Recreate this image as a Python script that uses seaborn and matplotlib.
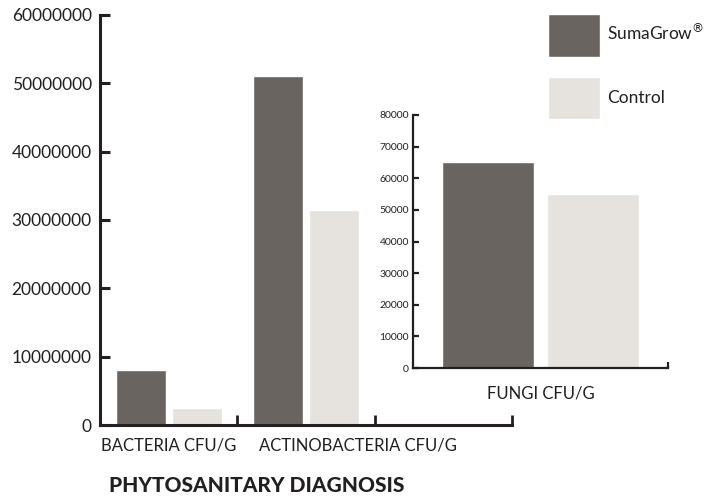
import pandas as pd
import matplotlib.pyplot as plt
import seaborn as sns

# dados
treatments = ['SumaGrow', 'Control']
main_categories = ['BACTERIA CFU/G', 'ACTINOBACTERIA CFU/G']
sumagrow_main = [8000000, 51000000]
control_main = [2500000, 31500000]
fungi_category = ['FUNGI CFU/G']
sumagrow_fungi = [65000]
control_fungi = [55000]
main_yticks = [0, 10000000, 20000000, 30000000, 40000000, 50000000, 60000000]
fungi_yticks = [0, 10000, 20000, 30000, 40000, 50000, 60000, 70000, 80000]

colors = {'SumaGrow': '#69645f', 'Control': '#e6e3df'}
ink = '#231f20'

df_main = pd.DataFrame({
    'category': main_categories * 2,
    'treatment': ['SumaGrow'] * 2 + ['Control'] * 2,
    'value': sumagrow_main + control_main,
})
df_fungi = pd.DataFrame({
    'category': fungi_category * 2,
    'treatment': ['SumaGrow', 'Control'],
    'value': sumagrow_fungi + control_fungi,
})

sns.set_style('white')
plt.rcParams['font.family'] = ['Lato', 'DejaVu Sans']

W, H = 715, 496
fig = plt.figure(figsize=(W / 100, H / 100), dpi=100)

# gráfico principal
ax = fig.add_axes([100 / W, (H - 425) / H, 412 / W, 410 / H])
sns.barplot(data=df_main, x='category', y='value', hue='treatment',
            hue_order=treatments, palette=colors, width=0.818, gap=0.107,
            saturation=1, ax=ax, legend=True)
ax.set_xlim(-0.5, 2.5)
ax.set_ylim(0, 60000000)
ax.set_yticks(main_yticks)
ax.set_yticklabels([str(v) for v in main_yticks])
ax.set_xticks([])
ax.set_xticks([0.5, 1.5, 2.5], minor=True)
ax.tick_params(axis='x', which='minor', direction='in', length=7, width=2, color=ink, bottom=True)
ax.tick_params(axis='y', direction='in', length=7, width=2.2, color=ink, labelsize=12.5,
               labelcolor=ink, left=True, pad=6)
ax.set_xlabel('')
ax.set_ylabel('')
sns.despine(ax=ax)
for s in ['left', 'bottom']:
    ax.spines[s].set_linewidth(2.2)
    ax.spines[s].set_color(ink)
ax.text(0, -0.05, 'BACTERIA CFU/G', transform=ax.get_xaxis_transform(),
        ha='center', va='center', fontsize=12, color=ink)
ax.text(1.376, -0.05, 'ACTINOBACTERIA CFU/G', transform=ax.get_xaxis_transform(),
        ha='center', va='center', fontsize=12, color=ink)

handles, labels = ax.get_legend_handles_labels()
ax.get_legend().remove()

# gráfico de fungos (inserido)
ax2 = fig.add_axes([413 / W, (H - 368) / H, 255 / W, 253 / H])
sns.barplot(data=df_fungi, x='category', y='value', hue='treatment',
            hue_order=treatments, palette=colors, width=0.831, gap=0.132,
            saturation=1, ax=ax2, legend=False)
ax2.set_xlim(-0.5, 0.5)
ax2.set_ylim(0, 80000)
ax2.set_yticks(fungi_yticks)
ax2.set_yticklabels([str(v) for v in fungi_yticks])
ax2.set_xticks([])
ax2.set_xticks([0.5], minor=True)
ax2.tick_params(axis='x', which='minor', direction='in', length=4.5, width=1.6, color=ink, bottom=True)
ax2.tick_params(axis='y', direction='in', length=4.5, width=1.6, color=ink, labelsize=7.5,
                labelcolor=ink, left=True, pad=3)
ax2.set_xlabel('')
ax2.set_ylabel('')
ax2.patch.set_alpha(0)
sns.despine(ax=ax2)
for s in ['left', 'bottom']:
    ax2.spines[s].set_linewidth(1.6)
    ax2.spines[s].set_color(ink)
ax2.text(0, -0.1, 'FUNGI CFU/G', transform=ax2.get_xaxis_transform(),
         ha='center', va='center', fontsize=12, color=ink)

# legenda
fig.legend(handles, ['SumaGrow$^{\\circledR}$', 'Control'], loc='upper left',
           bbox_to_anchor=(548 / W, 1 - 14 / H), frameon=False, fontsize=12.5,
           handlelength=3.0, handleheight=3.4, labelspacing=1.15, handletextpad=0.4,
           borderpad=0, borderaxespad=0, labelcolor=ink)

fig.text(257 / W, 1 - 485 / H, 'PHYTOSANITARY DIAGNOSIS', ha='center', va='center',
         fontsize=15, fontweight='black', color=ink)

fig.savefig('out.png', dpi=100)
